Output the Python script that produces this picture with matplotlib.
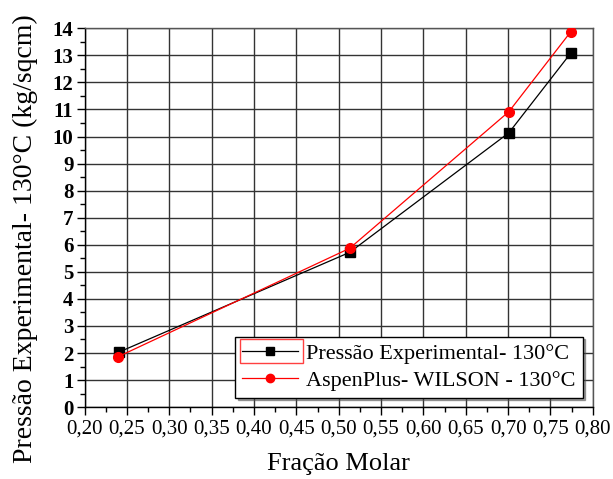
import matplotlib
matplotlib.use("Agg")
from matplotlib import pyplot as plt
from matplotlib.patches import Rectangle
from matplotlib.ticker import MultipleLocator, FuncFormatter

# Data
fracao = [0.241, 0.513, 0.701, 0.774]
pressao_exp = [2.04, 5.72, 10.14, 13.08]
fracao_aspen = [0.240, 0.513, 0.701, 0.774]
pressao_aspen = [1.87, 5.87, 10.92, 13.87]

plt.rcParams['font.family'] = ['Liberation Serif', 'DejaVu Serif']

fig = plt.figure(figsize=(6.13, 4.79), dpi=100)
ax = fig.add_axes([0.138, 0.150, 0.829, 0.791])

ax.plot(fracao, pressao_exp, color="black", lw=0.9, marker="s", ms=6.5,
        label="Pressão Experimental- 130°C", zorder=3)
ax.plot(fracao_aspen, pressao_aspen, color="red", lw=0.9, marker="o", ms=7,
        label="AspenPlus- WILSON - 130°C", zorder=3)

ax.set_xlim(0.20, 0.80)
ax.set_ylim(0, 14)
ax.xaxis.set_major_locator(MultipleLocator(0.05))
ax.xaxis.set_minor_locator(MultipleLocator(0.025))
ax.yaxis.set_major_locator(MultipleLocator(1))
ax.yaxis.set_minor_locator(MultipleLocator(0.5))
ax.xaxis.set_major_formatter(FuncFormatter(lambda v, p: f"{v:.2f}".replace(".", ",")))
ax.yaxis.set_major_formatter(FuncFormatter(lambda v, p: f"{v:.0f}"))

ax.grid(True, which="major", color="#333333", lw=1.0)
ax.set_axisbelow(True)
ax.tick_params(which="major", direction="out", length=6, width=1, pad=2)
ax.tick_params(axis="x", labelsize=15, pad=3)
ax.tick_params(axis="y", labelsize=15)
ax.tick_params(which="minor", direction="out", length=3.5, width=1)
for lbl in ax.get_yticklabels():
    lbl.set_fontweight("bold")
for s in ax.spines.values():
    s.set_linewidth(1.0)
for s in ("top", "right"):
    ax.spines[s].set_color("#555555")

ax.set_xlabel("Fração Molar", fontsize=19, labelpad=10)
ax.set_ylabel("Pressão Experimental- 130°C (kg/sqcm)", fontsize=20)
ax.yaxis.set_label_coords(-0.092, 0.446)

leg = ax.legend(loc="lower right", bbox_to_anchor=(0.98, 0.025), fontsize=16,
                fancybox=False, shadow=True, framealpha=1, edgecolor="black",
                borderpad=0.3, handlelength=2.5, handletextpad=0.4, labelspacing=0.3,
                borderaxespad=0)
leg.get_frame().set_linewidth(1.0)
for line in leg.get_lines():
    line.set_markersize(6)

# red selection box around the first legend sample, as in the original
fig.canvas.draw()
bb = leg.legend_handles[0].get_window_extent(fig.canvas.get_renderer())
frame = leg.get_frame().get_window_extent(fig.canvas.get_renderer())
h = 24
x0 = frame.x0 + 5
fig.patches.append(Rectangle((x0, bb.y0 + bb.height / 2 - h / 2), bb.x1 - x0 + 1, h,
                             transform=None, fill=False, edgecolor="#ff4040", lw=1.0,
                             zorder=10))

fig.savefig("out.png", dpi=100)
